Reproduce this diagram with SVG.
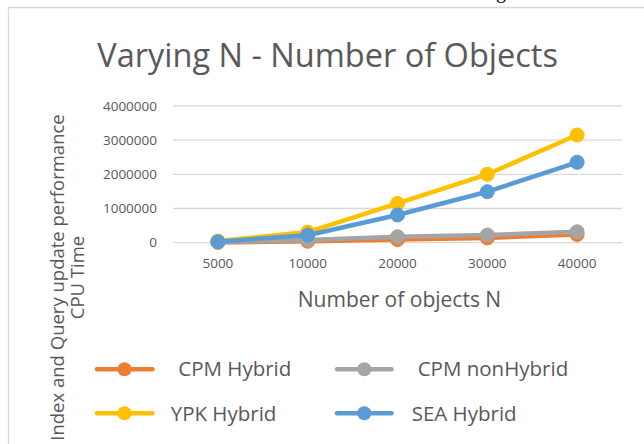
<svg xmlns="http://www.w3.org/2000/svg" width="644" height="444" viewBox="0 0 644 444">
<style>
text{font-family:"Open Sans","Noto Sans","DejaVu Sans",sans-serif;fill:#595959}
.grid{stroke:#d9d9d9;stroke-width:1.3;fill:none}
.ytick{font-size:13.5px;text-anchor:end}
.xtick{font-size:13.5px;text-anchor:middle}
.ser{fill:none;stroke-width:4.5;stroke-linejoin:round;stroke-linecap:round}
.leg{font-size:20.5px}
.legline{stroke-width:4.5;stroke-linecap:round}
</style>
<rect width="644" height="444" fill="#ffffff"/>
<text x="496" y="-2" style="font-family:'Liberation Serif',serif;font-size:20px;fill:#000">g</text>
<path d="M8.5,444 V7.5 H644" fill="none" stroke="#d9d9d9" stroke-width="1.3"/>
<g id="title"><text x="327.6" y="66.5" style="font-size:32.5px" text-anchor="middle">Varying N - Number of Objects</text></g>
<g id="gridlines">
<path class="grid" d="M173,105.9H622M173,140.1H622M173,174.3H622M173,208.5H622M173,242.7H622"/>
</g>
<g id="yaxis">
<text class="ytick" x="157" y="110.6">4000000</text>
<text class="ytick" x="157" y="144.8">3000000</text>
<text class="ytick" x="157" y="179">2000000</text>
<text class="ytick" x="157" y="213.2">1000000</text>
<text class="ytick" x="157" y="247.4">0</text>
</g>
<g id="xaxis">
<text class="xtick" x="217.9" y="267.7">5000</text>
<text class="xtick" x="307.7" y="267.7">10000</text>
<text class="xtick" x="397.5" y="267.7">20000</text>
<text class="xtick" x="487.3" y="267.7">30000</text>
<text class="xtick" x="577.1" y="267.7">40000</text>
</g>
<g id="xtitle"><text x="399.5" y="306.5" style="font-size:21px" text-anchor="middle">Number of objects N</text></g>
<g id="ytitle" style="font-size:18.5px" text-anchor="middle">
<text transform="translate(63.5,277.5) rotate(-90)">Index and Query update performance</text>
<text transform="translate(83.5,277.5) rotate(-90)">CPU Time</text>
</g>
<g id="connectors">
<g id="cpm-hybrid" stroke="#ED7D31" fill="#ED7D31">
<polyline class="ser" points="217.9,242.4 307.7,241.3 397.5,239.6 487.3,237.9 577.1,234.5"/>
<circle cx="217.9" cy="242.4" r="7"/><circle cx="307.7" cy="241.3" r="7"/><circle cx="397.5" cy="239.6" r="7"/><circle cx="487.3" cy="237.9" r="7"/><circle cx="577.1" cy="234.5" r="7"/>
</g>
<g id="cpm-nonhybrid" stroke="#A5A5A5" fill="#A5A5A5">
<polyline class="ser" points="217.9,242 307.7,240 397.5,236.7 487.3,235 577.1,231.8"/>
<circle cx="217.9" cy="242" r="7"/><circle cx="307.7" cy="240" r="7"/><circle cx="397.5" cy="236.7" r="7"/><circle cx="487.3" cy="235" r="7"/><circle cx="577.1" cy="231.8" r="7"/>
</g>
<g id="ypk-hybrid" stroke="#FFC000" fill="#FFC000">
<polyline class="ser" points="217.9,241 307.7,232.1 397.5,203.4 487.3,174.3 577.1,135"/>
<circle cx="217.9" cy="241" r="7"/><circle cx="307.7" cy="232.1" r="7"/><circle cx="397.5" cy="203.4" r="7"/><circle cx="487.3" cy="174.3" r="7"/><circle cx="577.1" cy="135" r="7"/>
</g>
<g id="sea-hybrid" stroke="#5B9BD5" fill="#5B9BD5">
<polyline class="ser" points="217.9,241.7 307.7,235.2 397.5,215 487.3,191.7 577.1,162.3"/>
<circle cx="217.9" cy="241.7" r="7"/><circle cx="307.7" cy="235.2" r="7"/><circle cx="397.5" cy="215" r="7"/><circle cx="487.3" cy="191.7" r="7"/><circle cx="577.1" cy="162.3" r="7"/>
</g>
</g>
<g id="legend">
<g id="leg-cpm-hybrid"><line class="legline" x1="97" y1="369.3" x2="152.5" y2="369.3" stroke="#ED7D31"/><circle cx="124.5" cy="369.3" r="7" fill="#ED7D31"/><text class="leg" x="178.3" y="376">CPM Hybrid</text></g>
<g id="leg-cpm-nonhybrid"><line class="legline" x1="337" y1="369.3" x2="391.5" y2="369.3" stroke="#A5A5A5"/><circle cx="364.3" cy="369.3" r="7" fill="#A5A5A5"/><text class="leg" x="417.7" y="376">CPM nonHybrid</text></g>
<g id="leg-ypk-hybrid"><line class="legline" x1="97" y1="413.3" x2="152.5" y2="413.3" stroke="#FFC000"/><circle cx="124.5" cy="413.3" r="7" fill="#FFC000"/><text class="leg" x="170.7" y="420.5">YPK Hybrid</text></g>
<g id="leg-sea-hybrid"><line class="legline" x1="337" y1="413.3" x2="391.5" y2="413.3" stroke="#5B9BD5"/><circle cx="364.3" cy="413.3" r="7" fill="#5B9BD5"/><text class="leg" x="411.7" y="420.5">SEA Hybrid</text></g>
</g>
</svg>
